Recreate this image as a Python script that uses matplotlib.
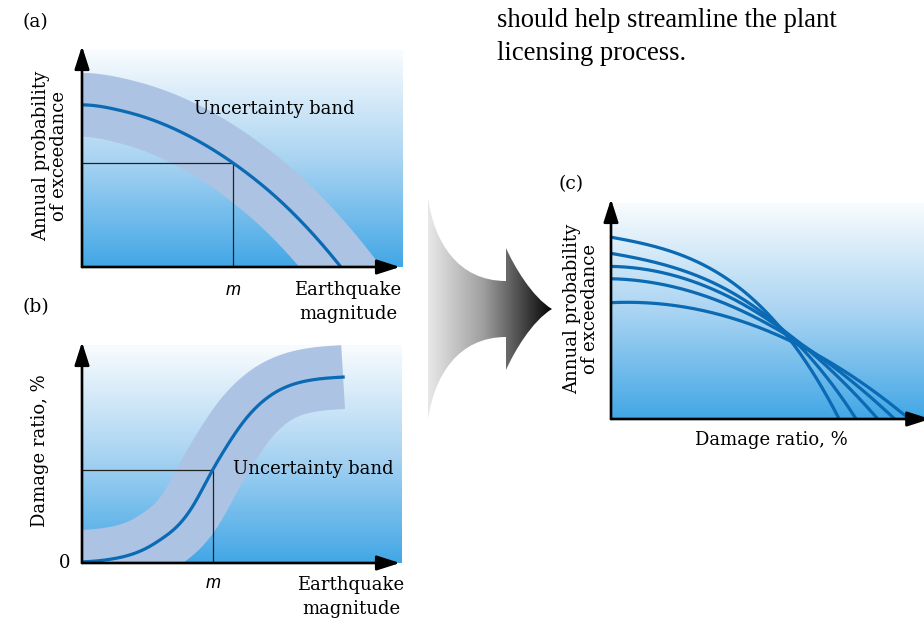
import numpy as np
import matplotlib
matplotlib.use("Agg")
import matplotlib.pyplot as plt
from matplotlib.path import Path
from matplotlib.patches import PathPatch
from matplotlib.colors import to_rgb

# --- data ----------------------------------------------------------------
# (a) hazard curve: magnitude (0-10) vs annual probability of exceedance (0-1)
#     first / last points run just outside the frame so the band gets clipped there
mag_a = [-1, 0, 1, 2, 3, 4, 5, 6, 7, 8, 9]
prob_a = [0.728, 0.747, 0.728, 0.688, 0.628, 0.548, 0.448, 0.328, 0.183, 0.012, -0.18]
m_a, prob_at_m = 4.70, 0.479

# (b) fragility curve: magnitude (0-10) vs damage ratio (%)
mag_b = [-1, 0, 1, 2, 2.5, 3, 3.5, 4, 4.5, 5, 6, 7, 8.16]
dmg_b = [0.3, 0.5, 2.0, 6.7, 11.2, 17.2, 27.0, 40.5, 53.0, 63.9, 77.9, 83.5, 85.3]
m_b, dmg_at_m = 4.08, 42.5

# (c) family of risk curves: damage ratio (%) vs annual probability
risk_x = [
    [0, 19.2, 38.3, 51.1, 58.1, 62.6, 66.8, 69.9, 72.5],
    [0, 19.2, 38.3, 51.1, 58.1, 64.5, 70.0, 74.1, 77.3],
    [0, 19.2, 38.3, 51.1, 59.4, 67.7, 75.4, 80.5, 84.3],
    [0, 19.2, 38.3, 51.1, 60.4, 70.9, 79.6, 85.9, 89.8],
    [0, 19.2, 38.3, 51.1, 62.6, 73.2, 83.7, 90.1, 94.9],
]
risk_y = [
    [0.840, 0.782, 0.630, 0.468, 0.352, 0.259, 0.167, 0.088, 0.0],
    [0.764, 0.713, 0.588, 0.449, 0.356, 0.282, 0.194, 0.102, 0.0],
    [0.705, 0.671, 0.565, 0.444, 0.356, 0.259, 0.167, 0.088, 0.0],
    [0.648, 0.617, 0.528, 0.421, 0.352, 0.241, 0.148, 0.074, 0.0],
    [0.538, 0.528, 0.472, 0.398, 0.319, 0.236, 0.134, 0.065, 0.0],
]

W, H = 924, 619
BLUE = "#0a6ab3"
BAND = "#adc3e3"
SERIF = "DejaVu Serif"


def fx(px):
    return px / W


def fy(py):
    return 1 - py / H


def spline(xs, ys, num=400):
    # natural cubic spline through the read points (only used for drawing)
    x = np.asarray(xs, float)
    y = np.asarray(ys, float)
    n = len(x)
    h = np.diff(x)
    A = np.zeros((n, n))
    r = np.zeros(n)
    A[0, 0] = A[-1, -1] = 1
    for i in range(1, n - 1):
        A[i, i - 1], A[i, i], A[i, i + 1] = h[i - 1], 2 * (h[i - 1] + h[i]), h[i]
        r[i] = 6 * ((y[i + 1] - y[i]) / h[i] - (y[i] - y[i - 1]) / h[i - 1])
    M = np.linalg.solve(A, r)
    xx = np.linspace(x[0], x[-1], num)
    i = np.clip(np.searchsorted(x, xx) - 1, 0, n - 2)
    t0, t1, hi = x[i + 1] - xx, xx - x[i], h[i]
    yy = ((M[i] * t0 ** 3 + M[i + 1] * t1 ** 3) / (6 * hi)
          + (y[i] / hi - M[i] * hi / 6) * t0 + (y[i + 1] / hi - M[i + 1] * hi / 6) * t1)
    return xx, yy


def gradient_bg(ax, xlim, ylim):
    stops = [(0.0, "#f9fcfe"), (0.5, "#aad4f2"), (1.0, "#42a7e6")]
    t = np.linspace(0, 1, 256)
    cols = np.zeros((256, 1, 3))
    for k in range(3):
        cols[:, 0, k] = np.interp(t, [s[0] for s in stops], [to_rgb(s[1])[k] for s in stops])
    ax.imshow(cols, extent=(xlim[0], xlim[1], ylim[0], ylim[1]), aspect="auto",
              origin="upper", zorder=0)
    ax.set_xlim(xlim)
    ax.set_ylim(ylim)
    ax.axis("off")


def axis_arrows(ax, xtip, ytip):
    style = "-|>,head_length=1.0,head_width=0.32"
    for tip in [(xtip, 0), (0, ytip)]:
        ax.annotate("", xy=tip, xytext=(0, 0), xycoords="axes fraction",
                    arrowprops=dict(arrowstyle=style, color="black", lw=1.9,
                                    mutation_scale=14, shrinkA=0, shrinkB=0),
                    annotation_clip=False, zorder=10)


def banded(ax, xs, ys, m, level):
    xx, yy = spline(xs, ys)
    ax.plot(xx, yy, color=BAND, lw=46, solid_capstyle="butt",
            solid_joinstyle="round", zorder=1)
    ax.plot([0, m, m], [level, level, 0], color="#222222", lw=0.9, zorder=2)
    ax.plot(xx, yy, color=BLUE, lw=2.3, zorder=3)


fig = plt.figure(figsize=(W / 100, H / 100), dpi=100)

# ---- panel (a)
ax_a = fig.add_axes([fx(82), fy(267), 321 / W, 217 / H])
gradient_bg(ax_a, (0, 10), (0, 1))
banded(ax_a, mag_a, prob_a, m_a, prob_at_m)
axis_arrows(ax_a, (400 - 82) / 321, (267 - 46) / 217)

# ---- panel (b)
ax_b = fig.add_axes([fx(82), fy(563), 320 / W, 218 / H])
gradient_bg(ax_b, (0, 10), (0, 100))
banded(ax_b, mag_b, dmg_b, m_b, dmg_at_m)
axis_arrows(ax_b, (400 - 82) / 320, (563 - 342) / 218)

# ---- panel (c): smooth cubic trend through each set of read points
ax_c = fig.add_axes([fx(611), fy(419), 313 / W, 216 / H])
gradient_bg(ax_c, (0, 100), (0, 1))
for xs, ys in zip(risk_x, risk_y):
    coef = np.polyfit(xs, ys, 3)
    xx = np.linspace(0, xs[-1] + 3, 300)
    ax_c.plot(xx, np.polyval(coef, xx), color=BLUE, lw=2.3, zorder=3)
axis_arrows(ax_c, 1.02, (419 - 199) / 216)

# ---- big grey arrow between panels (overlay in pixel coords)
ov = fig.add_axes([0, 0, 1, 1], zorder=-1)
ov.set_xlim(0, W)
ov.set_ylim(H, 0)
ov.axis("off")
verts = [(428, 198), (434, 242), (458, 281), (506, 281),
         (506, 248), (514, 266), (532, 297), (552, 309),
         (532, 321), (514, 352), (506, 370),
         (506, 337), (458, 337), (434, 376), (428, 420),
         (428, 198)]
codes = [Path.MOVETO, Path.CURVE4, Path.CURVE4, Path.CURVE4,
         Path.LINETO, Path.CURVE4, Path.CURVE4, Path.CURVE4,
         Path.CURVE4, Path.CURVE4, Path.CURVE4,
         Path.LINETO, Path.CURVE4, Path.CURVE4, Path.CURVE4,
         Path.CLOSEPOLY]
shape = PathPatch(Path(verts, codes), facecolor="none", edgecolor="none")
ov.add_patch(shape)
grey = np.interp(np.linspace(0, 1, 256), [0, 0.45, 1], [0.91, 0.62, 0.02])
img = ov.imshow(np.tile(grey, (2, 1)), cmap="gray", vmin=0, vmax=1,
                extent=(428, 552, 420, 198), aspect="auto")
img.set_clip_path(shape)


# ---- texts
def serif(px, py, s, size=13, **kw):
    fig.text(fx(px), fy(py), s, family=SERIF, fontsize=size, **kw)


serif(22, 27, "(a)", ha="left", va="baseline", size=13.5)
serif(22, 312, "(b)", ha="left", va="baseline", size=13.5)
serif(559, 189, "(c)", ha="left", va="baseline", size=13.5)

serif(50, 156, "Annual probability\nof exceedance", rotation=90, ha="center",
      va="center", multialignment="center", linespacing=1.0)
serif(40, 451, "Damage ratio, %", rotation=90, ha="center", va="center")
serif(581, 309, "Annual probability\nof exceedance", rotation=90, ha="center",
      va="center", multialignment="center", linespacing=1.0)

serif(274, 114, "Uncertainty band", ha="center", va="baseline")
serif(313, 474, "Uncertainty band", ha="center", va="baseline")

serif(348, 295, "Earthquake", ha="center", va="baseline")
serif(348, 319, "magnitude", ha="center", va="baseline")
serif(351, 590, "Earthquake", ha="center", va="baseline")
serif(351, 614, "magnitude", ha="center", va="baseline")
serif(771, 445, "Damage ratio, %", ha="center", va="baseline")
serif(65, 568, "0", ha="center", va="baseline")

for px, py in [(233, 295), (213, 588)]:
    fig.text(fx(px), fy(py), "m", family="Liberation Sans", style="italic",
             fontsize=13, ha="center", va="baseline")

for py, line in [(27, "should help streamline the plant"), (60, "licensing process.")]:
    fig.text(fx(497), fy(py), line, family="Liberation Serif", fontsize=19.2,
             ha="left", va="baseline")

fig.savefig("out.png", dpi=100)
